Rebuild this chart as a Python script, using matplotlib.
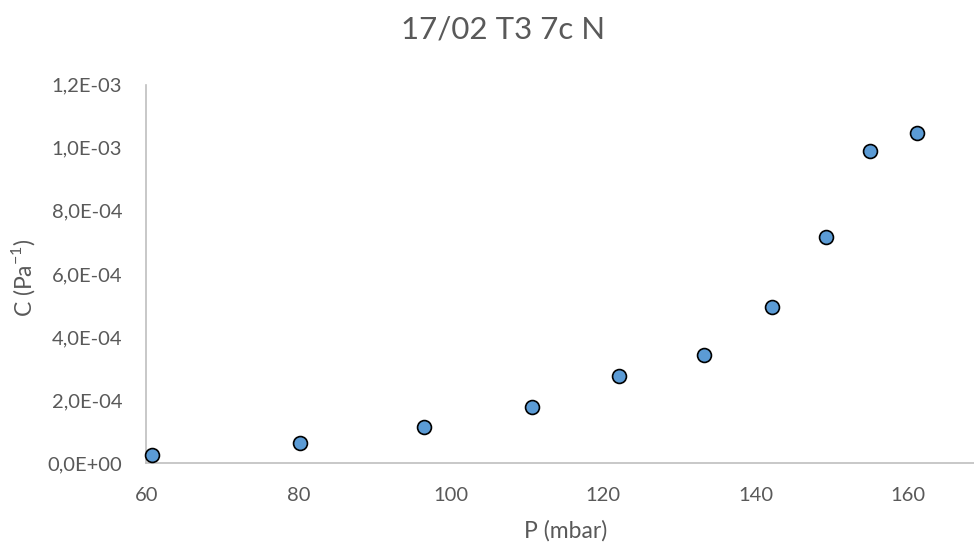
import matplotlib
matplotlib.use("Agg")
import matplotlib.pyplot as plt
from matplotlib.ticker import FuncFormatter, MultipleLocator

plt.rcParams['font.family'] = ['Lato', 'DejaVu Sans']

pressure_mbar = [60.7, 80.1, 96.4, 110.7, 122.1, 133.2, 142.2, 149.3, 155.1, 161.2]
compliance = [2.7e-5, 6.4e-5, 1.16e-4, 1.78e-4, 2.77e-4, 3.43e-4, 4.95e-4, 7.16e-4, 9.90e-4, 1.045e-3]

title = "17/02 T3 7c N"
x_label = "P (mbar)"
y_label = r"C (Pa$^{\mathregular{-1}}$)"

text_color = "#595959"
axis_color = "#BFBFBF"

fig = plt.figure(figsize=(9.74, 5.46), dpi=100)
ax = fig.add_axes([0.1504, 0.1515, 0.8496, 0.6937])

ax.plot(pressure_mbar, compliance, linestyle="none", marker="o", markersize=10,
        markerfacecolor="#5B9BD5", markeredgecolor="black", markeredgewidth=1.2,
        clip_on=False, zorder=3)

ax.set_xlim(60, 168.7)
ax.set_ylim(0, 1.2e-3)
ax.xaxis.set_major_locator(MultipleLocator(20))
ax.yaxis.set_major_locator(MultipleLocator(2e-4))


def sci_comma(v, pos):
    return f"{v:.1E}".replace(".", ",")


ax.yaxis.set_major_formatter(FuncFormatter(sci_comma))

for side in ("top", "right"):
    ax.spines[side].set_visible(False)
for side in ("left", "bottom"):
    ax.spines[side].set_color(axis_color)
    ax.spines[side].set_linewidth(1.2)

ax.tick_params(axis="both", length=0, labelsize=14.5, colors=text_color)
ax.tick_params(axis="x", pad=17)
ax.tick_params(axis="y", pad=17.5)

ax.set_xlabel(x_label, fontsize=16.5, color=text_color, va="center", ha="center")
ax.xaxis.set_label_coords(0.507, -0.1786)
ax.set_ylabel(y_label, fontsize=16.5, color=text_color, va="center", ha="center")
ax.yaxis.set_label_coords(-0.1492, 0.490)

fig.text(0.516, 0.946, title, ha="center", va="center", fontsize=22.5, color=text_color)

fig.savefig("out.png", dpi=100)
